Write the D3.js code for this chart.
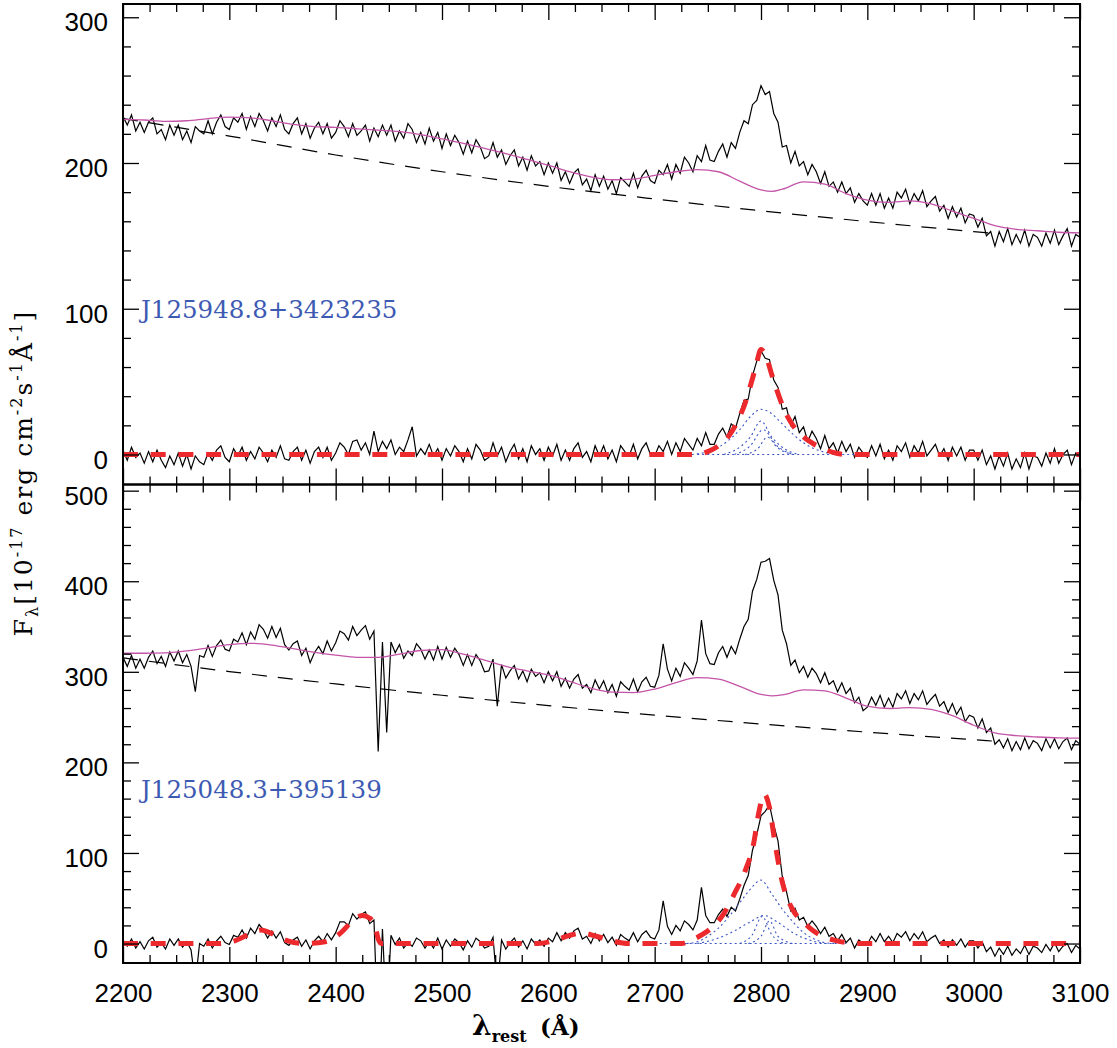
<!DOCTYPE html>
<html>
<head>
<meta charset="utf-8">
<script src="https://cdn.jsdelivr.net/npm/d3@7/dist/d3.min.js"></script>
<style>
  body { margin: 0; background: #fff; }
  svg { display: block; }
</style>
</head>
<body>
<div id="chart"></div>
<script>
// Spectra are sampled on a regular grid (rest-frame wavelength, Angstrom)
const waveStart = 2200;
const waveStep = 4;

const xTicks = [2200, 2300, 2400, 2500, 2600, 2700, 2800, 2900, 3000, 3100];
const topYTicks = [0, 100, 200, 300];
const botYTicks = [0, 100, 200, 300, 400, 500];

// ---------- upper object: J125948.8+3423235 ----------
const topName = 'J125948.8+3423235';
const topFlux = [
  232, 226, 233, 222, 228, 221, 228, 231, 220, 223, 216, 226, 219, 226, 216, 222, 214, 225, 222, 220, 229, 220, 228, 233, 225,
  223, 231, 228, 234, 223, 232, 225, 234, 229, 222, 231, 225, 233, 223, 220, 227, 231, 220, 227, 217, 224, 228, 220, 227, 217,
  221, 229, 225, 218, 227, 219, 222, 226, 215, 224, 218, 226, 219, 226, 215, 222, 217, 227, 223, 214, 221, 213, 224, 215, 221,
  210, 220, 212, 219, 214, 206, 215, 207, 216, 211, 203, 205, 214, 204, 209, 199, 205, 209, 198, 204, 195, 205, 198, 201, 192,
  200, 193, 200, 188, 194, 186, 193, 196, 185, 189, 181, 192, 184, 191, 182, 188, 179, 190, 187, 184, 193, 183, 191, 195, 188,
  186, 195, 192, 199, 189, 199, 193, 204, 200, 194, 205, 201, 212, 202, 201, 208, 213, 204, 214, 210, 221, 229, 227, 240, 243,
  253, 247, 249, 234, 228, 211, 212, 200, 208, 198, 201, 192, 199, 194, 186, 194, 184, 187, 180, 187, 179, 183, 173, 179, 174,
  171, 179, 171, 179, 169, 176, 169, 180, 176, 182, 172, 179, 174, 181, 170, 174, 177, 167, 171, 162, 170, 163, 169, 159, 165,
  164, 156, 162, 150, 153, 143, 153, 146, 155, 144, 151, 145, 154, 143, 151, 149, 143, 152, 145, 154, 144, 150, 155, 143, 151,
  149
];
const topResidual = [
  3, -4, 5, -2, 1, -6, 2, -5, 3, -4, -9, -1, -7, 1, -8, 0, -10, -1, -5, -7, 1, -4, 3, 6, -2,
  -5, 4, -1, 5, -4, 2, -3, 5, 1, -5, 3, -2, 6, -3, -4, 2, 5, -4, 3, -6, 2, 5, -2, 5, -4,
  1, 8, 5, 0, 9, 10, 3, 8, 0, 16, 2, 9, 4, 10, 0, 5, 2, 10, 19, -1, 4, 0, 7, -1, 4,
  -4, 4, -1, 6, 2, -5, 4, -3, 7, 3, -4, -2, 8, -1, 5, -5, 2, 7, -3, 4, -5, 6, 0, 4, -4,
  5, -1, 7, -4, 3, -4, 4, 8, -2, 2, -5, 6, -1, 6, -3, 3, -5, 6, 2, -1, 7, -3, 4, 8, 0,
  -1, 6, 2, 9, 0, 8, 2, 11, 7, 3, 11, 6, 15, 7, 7, 14, 18, 12, 21, 18, 28, 37, 38, 54, 64,
  71, 66, 65, 51, 46, 31, 32, 20, 26, 15, 19, 9, 16, 11, 4, 13, 4, 8, 1, 9, 2, 7, -2, 5, 1,
  -2, 6, -1, 7, -3, 3, -4, 6, 2, 8, -2, 6, 1, 9, -1, 3, 7, -1, 4, -4, 5, -1, 5, -4, 3,
  3, -4, 3, -7, -1, -10, -1, -8, 1, -10, -3, -9, 1, -10, -1, -2, -8, 1, -6, 4, -6, 0, 3, -7, 1,
  -2
];
// power-law continuum + Fe II template
const topContFe = [
  [2200, 230], [2220, 229.5], [2240, 228.5], [2260, 229], [2280, 230.5], [2300, 231.5],
  [2320, 231], [2340, 229], [2360, 226.5], [2380, 225], [2400, 224.5], [2420, 223.5],
  [2440, 222.5], [2460, 221.5], [2480, 219.5], [2500, 216.5], [2520, 213.5], [2540, 210],
  [2560, 206.5], [2580, 202.5], [2600, 198.5], [2620, 194], [2640, 190.5], [2660, 188.5],
  [2680, 189], [2700, 191.5], [2720, 194], [2740, 195.5], [2760, 194], [2780, 187.5],
  [2800, 181.5], [2810, 180.5], [2820, 182], [2840, 187], [2860, 185.5], [2880, 179],
  [2900, 174.5], [2920, 173], [2940, 174], [2960, 172], [2980, 167], [3000, 162],
  [3020, 157], [3040, 154.5], [3060, 153.5], [3080, 152.5], [3100, 152]
];
const topPowerLaw = [
  [2200, 230.5], [2300, 218.5], [2400, 205.5], [2500, 194], [2600, 184],
  [2700, 175.3], [2800, 167.2], [2900, 159.8], [3000, 152.9], [3015, 151.9]
];
const topLineFit = [
  [2200, 0], [2740, 0], [2750, 2], [2760, 6], [2770, 13], [2780, 26], [2785, 35],
  [2790, 47], [2795, 60], [2800, 72], [2805, 67], [2810, 55], [2815, 44], [2820, 34],
  [2825, 26], [2830, 20], [2840, 12], [2850, 7], [2860, 3.5], [2870, 1], [2880, 0], [3100, 0]
];
const topLineParts = [
  [[2735, 0], [2750, 2], [2760, 5], [2770, 10], [2780, 17], [2790, 26], [2800, 31], [2810, 28],
   [2820, 21], [2830, 14], [2840, 8], [2850, 4], [2860, 1.5], [2875, 0]],
  [[2765, 0], [2780, 5], [2790, 12], [2800, 23], [2810, 12], [2820, 5], [2835, 0]],
  [[2775, 0], [2790, 6], [2802, 17], [2815, 6], [2830, 0]],
  [[2785, 0], [2797, 4], [2806, 12], [2815, 5], [2830, 0]],
  [[2740, 0], [2900, 0]]
];

// ---------- lower object: J125048.3+395139 ----------
const botName = 'J125048.3+395139';
const botFlux = [
  316, 306, 318, 304, 314, 304, 316, 323, 309, 317, 306, 322, 312, 323, 310, 319, 306, 278, 318, 316, 329, 317, 329, 335, 325,
  323, 336, 333, 343, 330, 344, 336, 352, 347, 337, 350, 338, 348, 330, 324, 331, 334, 318, 326, 310, 321, 328, 320, 334, 323,
  332, 345, 342, 335, 350, 340, 346, 351, 336, 345, 212, 333, 233, 333, 321, 330, 315, 323, 318, 331, 325, 314, 324, 313, 328,
  314, 327, 316, 326, 319, 307, 319, 307, 319, 312, 300, 301, 314, 262, 308, 293, 301, 307, 292, 301, 289, 303, 295, 299, 288,
  300, 290, 300, 284, 293, 282, 292, 297, 282, 286, 277, 291, 281, 290, 277, 286, 273, 289, 284, 280, 292, 278, 289, 294, 284,
  283, 296, 331, 303, 290, 304, 295, 310, 304, 297, 312, 357, 320, 309, 308, 321, 328, 316, 328, 320, 336, 350, 358, 389, 402,
  421, 422, 425, 401, 385, 346, 331, 307, 313, 299, 306, 294, 304, 298, 288, 299, 286, 290, 278, 288, 276, 282, 266, 272, 257,
  261, 272, 263, 274, 261, 271, 261, 276, 270, 279, 265, 276, 269, 279, 264, 270, 275, 262, 267, 255, 265, 253, 261, 245, 252,
  250, 238, 248, 233, 238, 220, 225, 216, 226, 213, 223, 214, 227, 215, 224, 221, 213, 226, 216, 226, 215, 223, 227, 214, 224,
  220
];
const botResidual = [
  4, -3, 5, -5, 2, -6, 3, 7, -4, 1, -6, 5, -2, 5, -4, 2, -7, -44, 0, -3, 5, -5, 3, 8, 1,
  -1, 9, 7, 15, 6, 17, 11, 21, 15, 6, 14, 6, 13, 1, -2, 4, 7, -3, 4, -6, 3, 8, 2, 11, 4,
  12, 24, 24, 20, 33, 27, 32, 35, 22, 26, -104, 16, -86, 9, -1, 6, -5, 1, -3, 6, 3, -5, 2, -5, 6,
  -6, 4, -3, 5, 1, -7, 3, -4, 6, 2, -5, -3, 7, -50, 4, -6, 1, 6, -4, 3, -6, 5, -1, 4, -3,
  6, 2, 12, 3, 12, 6, 14, 17, 5, 8, 0, 11, 3, 10, 1, 7, -2, 10, 6, 3, 12, 2, 10, 14, 7,
  5, 15, 47, 19, 10, 20, 14, 25, 21, 15, 26, 62, 31, 23, 23, 32, 38, 30, 40, 36, 49, 64, 75, 103, 120,
  141, 146, 153, 131, 113, 74, 57, 36, 39, 26, 29, 19, 25, 19, 11, 18, 8, 11, 3, 10, 1, 6, -5, 4, 0,
  -1, 8, 2, 11, 2, 8, 1, 11, 7, 13, 3, 11, 5, 13, 2, 6, 9, 0, 4, -4, 4, -2, 5, -4, 3,
  3, -5, 2, -9, -4, -14, -5, -12, -3, -13, -6, -11, -2, -12, -3, -5, -10, -1, -8, 1, -9, -3, 0, -10, -2,
  -6
];
const botContFe = [
  [2200, 320.5], [2220, 320.5], [2240, 321], [2260, 323], [2280, 326.5], [2300, 330],
  [2320, 331.5], [2340, 329.5], [2360, 325.5], [2380, 321.5], [2400, 318.5], [2420, 316],
  [2440, 316], [2460, 319.5], [2480, 323.5], [2500, 324.5], [2520, 319.5], [2540, 313],
  [2560, 306], [2580, 301], [2600, 296.5], [2620, 289.5], [2640, 282], [2660, 277.5],
  [2680, 277], [2700, 281], [2720, 288], [2740, 293.5], [2760, 292], [2780, 284],
  [2800, 275], [2810, 273.5], [2820, 274.5], [2840, 280], [2860, 279], [2880, 271],
  [2900, 262], [2920, 259.5], [2940, 260.5], [2960, 258.5], [2980, 251.5], [3000, 241],
  [3020, 232.5], [3040, 229.5], [3060, 228], [3080, 227], [3100, 226.7]
];
const botPowerLaw = [
  [2200, 315.4], [2300, 300.3], [2400, 286.6], [2500, 274.1], [2600, 262.7],
  [2700, 252.1], [2800, 242.4], [2900, 233.4], [3000, 225], [3020, 223.4]
];
const botLineFit = [
  [2200, 0], [2290, 0], [2305, 3], [2320, 11], [2330, 15], [2340, 11], [2355, 3], [2370, 0],
  [2390, 2], [2405, 12], [2415, 24], [2425, 31], [2432, 28], [2437, 20], [2440, 5], [2443, 0],
  [2590, 0], [2605, 3], [2620, 9], [2632, 11.5], [2645, 8], [2660, 3], [2675, 0],
  [2725, 0], [2735, 4], [2745, 10], [2755, 19], [2765, 33], [2775, 55], [2785, 80], [2793, 110],
  [2798, 145], [2803, 165], [2808, 150], [2813, 112], [2820, 68], [2830, 37], [2840, 24],
  [2846, 17], [2856, 9], [2868, 4], [2880, 1], [2890, 0], [3100, 0]
];
const botLineParts = [
  [[2730, 0], [2740, 2], [2750, 8], [2760, 17], [2770, 30], [2780, 45], [2790, 60], [2800, 70],
   [2810, 55], [2820, 38], [2830, 24], [2840, 12], [2850, 5], [2860, 1], [2870, 0]],
  [[2740, 0], [2760, 6], [2775, 14], [2790, 24], [2803, 31], [2815, 24], [2830, 12], [2845, 4], [2860, 0]],
  [[2780, 0], [2792, 10], [2801, 30], [2810, 10], [2822, 0]],
  [[2788, 0], [2800, 8], [2808, 25], [2816, 8], [2830, 0]],
  [[2700, 0], [2880, 0]]
];

// ---------- layout ----------
const width = 1117;
const height = 1048;
const plotLeft = 123;
const plotRight = 1080;

const FLUX_COLOR = '#000';
const FE_COLOR = '#c454a8';
const FIT_COLOR = '#ec2a2d';
const PART_COLOR = '#3a55c4';
const NAME_COLOR = '#3d5ab3';

const svg = d3.select('#chart')
  .append('svg')
  .attr('width', width)
  .attr('height', height);

const x = d3.scaleLinear().domain([2200, 3100]).range([plotLeft, plotRight]);

const panels = [
  {
    id: 'top', name: topName, nameY: 318, yTop: 4, yBottom: 484.5, domain: [-20.6, 309.1],
    yTicks: topYTicks, flux: topFlux, residual: topResidual, contFe: topContFe,
    powerLaw: topPowerLaw, lineFit: topLineFit, parts: topLineParts, xLabels: false
  },
  {
    id: 'bot', name: botName, nameY: 798, yTop: 484.5, yBottom: 963, domain: [-21.5, 506.8],
    yTicks: botYTicks, flux: botFlux, residual: botResidual, contFe: botContFe,
    powerLaw: botPowerLaw, lineFit: botLineFit, parts: botLineParts, xLabels: true
  }
];

const toPoints = (arr) => arr.map((v, i) => [waveStart + i * waveStep, v]);
const xMinor = d3.range(2200, 3101, 25).filter((w) => w % 100 !== 0);

panels.forEach((p) => {
  const y = d3.scaleLinear().domain(p.domain).range([p.yBottom, p.yTop]);
  const line = d3.line().x((d) => x(d[0])).y((d) => y(d[1]));
  const smooth = d3.line().x((d) => x(d[0])).y((d) => y(d[1])).curve(d3.curveMonotoneX);

  svg.append('clipPath')
    .attr('id', `clip-${p.id}`)
    .append('rect')
    .attr('x', plotLeft)
    .attr('y', p.yTop)
    .attr('width', plotRight - plotLeft)
    .attr('height', p.yBottom - p.yTop);

  const g = svg.append('g').attr('clip-path', `url(#clip-${p.id})`);

  // observed spectrum
  g.append('path')
    .attr('d', line(toPoints(p.flux)))
    .attr('fill', 'none')
    .attr('stroke', FLUX_COLOR)
    .attr('stroke-width', 1.2);

  // power-law continuum
  g.append('path')
    .attr('d', smooth(p.powerLaw))
    .attr('fill', 'none')
    .attr('stroke', '#000')
    .attr('stroke-width', 1.2)
    .attr('stroke-dasharray', '15,11');

  // continuum + Fe II
  g.append('path')
    .attr('d', smooth(p.contFe))
    .attr('fill', 'none')
    .attr('stroke', FE_COLOR)
    .attr('stroke-width', 1.3);

  // residual (Mg II region)
  g.append('path')
    .attr('d', line(toPoints(p.residual)))
    .attr('fill', 'none')
    .attr('stroke', FLUX_COLOR)
    .attr('stroke-width', 1.2);

  // individual line components
  p.parts.forEach((part) => {
    g.append('path')
      .attr('d', smooth(part))
      .attr('fill', 'none')
      .attr('stroke', PART_COLOR)
      .attr('stroke-width', 1.1)
      .attr('stroke-dasharray', '2,3');
  });

  // total line fit
  g.append('path')
    .attr('d', smooth(p.lineFit))
    .attr('fill', 'none')
    .attr('stroke', FIT_COLOR)
    .attr('stroke-width', 5)
    .attr('stroke-dasharray', '15,12.7');

  // object name
  svg.append('text')
    .attr('x', 141)
    .attr('y', p.nameY)
    .attr('font-family', 'DejaVu Serif')
    .attr('font-size', 24.5)
    .attr('fill', NAME_COLOR)
    .text(p.name);

  // axes: ticks point inwards on all four sides
  const styleAxis = (sel) => {
    sel.select('.domain').remove();
    sel.selectAll('.tick line').attr('stroke', '#000').attr('stroke-width', 1.3);
    sel.attr('font-family', 'Liberation Sans, Arial, sans-serif').attr('font-size', 26);
    sel.selectAll('.tick text').attr('fill', '#000');
  };

  svg.append('g')
    .attr('transform', `translate(0,${p.yBottom})`)
    .call(d3.axisBottom(x).tickValues(xTicks).tickSize(-16).tickPadding(21)
      .tickFormat(p.xLabels ? d3.format('d') : () => ''))
    .call(styleAxis);
  svg.append('g')
    .attr('transform', `translate(0,${p.yBottom})`)
    .call(d3.axisBottom(x).tickValues(xMinor).tickSize(-8).tickFormat(() => ''))
    .call(styleAxis);
  svg.append('g')
    .attr('transform', `translate(0,${p.yTop})`)
    .call(d3.axisTop(x).tickValues(xTicks).tickSize(-16).tickFormat(() => ''))
    .call(styleAxis);
  svg.append('g')
    .attr('transform', `translate(0,${p.yTop})`)
    .call(d3.axisTop(x).tickValues(xMinor).tickSize(-8).tickFormat(() => ''))
    .call(styleAxis);

  const yMinor = d3.range(-20, p.domain[1], 20)
    .filter((v) => v % 100 !== 0 && v > p.domain[0] + 2 && v < p.domain[1] - 2);

  svg.append('g')
    .attr('transform', `translate(${plotLeft},0)`)
    .call(d3.axisLeft(y).tickValues(p.yTicks).tickSize(-16).tickPadding(15).tickFormat(d3.format('d')))
    .call(styleAxis)
    .call((sel) => sel.selectAll('.tick text').attr('dy', '0.52em'));
  svg.append('g')
    .attr('transform', `translate(${plotLeft},0)`)
    .call(d3.axisLeft(y).tickValues(yMinor).tickSize(-8).tickFormat(() => ''))
    .call(styleAxis);
  svg.append('g')
    .attr('transform', `translate(${plotRight},0)`)
    .call(d3.axisRight(y).tickValues(p.yTicks).tickSize(-16).tickFormat(() => ''))
    .call(styleAxis);
  svg.append('g')
    .attr('transform', `translate(${plotRight},0)`)
    .call(d3.axisRight(y).tickValues(yMinor).tickSize(-8).tickFormat(() => ''))
    .call(styleAxis);

  // frame
  svg.append('rect')
    .attr('x', plotLeft)
    .attr('y', p.yTop)
    .attr('width', plotRight - plotLeft)
    .attr('height', p.yBottom - p.yTop)
    .attr('fill', 'none')
    .attr('stroke', '#000')
    .attr('stroke-width', 2);
});

// y-axis title
const yTitle = svg.append('text')
  .attr('transform', 'translate(32,473) rotate(-90)')
  .attr('text-anchor', 'middle')
  .attr('font-family', 'DejaVu Serif')
  .attr('font-size', 25)
  .attr('letter-spacing', 2)
  .attr('fill', '#000');
yTitle.append('tspan').text('F');
yTitle.append('tspan').attr('font-size', 16).attr('dy', 6).text('λ');
yTitle.append('tspan').attr('dy', -6).text('[10');
yTitle.append('tspan').attr('font-size', 16).attr('dy', -10).text('-17');
yTitle.append('tspan').attr('dy', 10).text(' erg cm');
yTitle.append('tspan').attr('font-size', 16).attr('dy', -10).text('-2');
yTitle.append('tspan').attr('dy', 10).text('s');
yTitle.append('tspan').attr('font-size', 16).attr('dy', -10).text('-1');
yTitle.append('tspan').attr('dy', 10).text('Å');
yTitle.append('tspan').attr('font-size', 16).attr('dy', -10).text('-1');
yTitle.append('tspan').attr('dy', 10).text(']');

// x-axis title
const xTitle = svg.append('text')
  .attr('x', 472)
  .attr('y', 1035)
  .attr('font-family', 'DejaVu Serif')
  .attr('font-weight', 'bold')
  .attr('font-size', 28)
  .attr('fill', '#000');
xTitle.append('tspan').text('λ');
xTitle.append('tspan').attr('font-size', 16).attr('dy', 7).text('rest');
svg.append('text')
  .attr('x', 540)
  .attr('y', 1035)
  .attr('font-family', 'DejaVu Serif')
  .attr('font-weight', 'bold')
  .attr('font-size', 23)
  .attr('fill', '#000')
  .text('(Å)');
</script>
</body>
</html>
